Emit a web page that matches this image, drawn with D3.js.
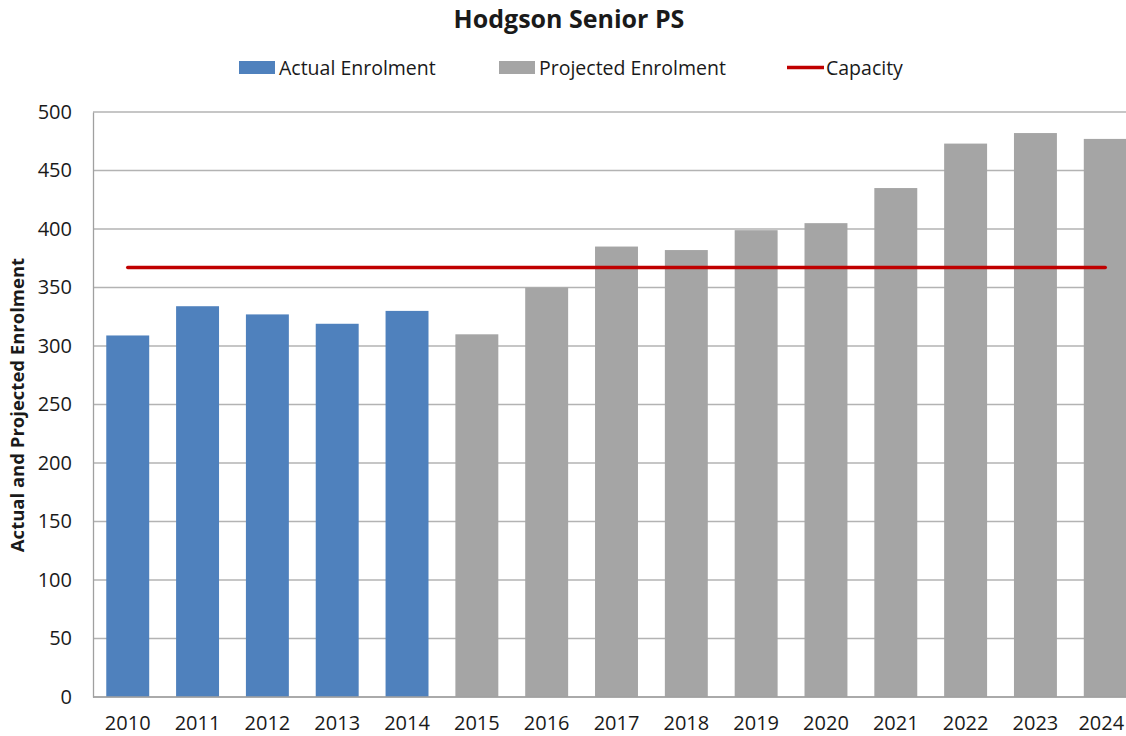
<!DOCTYPE html>
<html>
<head>
<meta charset="utf-8">
<script src="https://cdn.jsdelivr.net/npm/d3@7"></script>
<style>
  body { margin: 0; background: #fff; }
  text { font-family: "Open Sans", sans-serif; fill: #1a1a1a; }
</style>
</head>
<body>
<div id="chart"></div>
<script>
var w = 1126;
var h = 736;

// data
var years = ["2010", "2011", "2012", "2013", "2014", "2015", "2016", "2017",
  "2018", "2019", "2020", "2021", "2022", "2023", "2024"];
var actual = [309, 334, 327, 319, 330, null, null, null, null, null, null, null, null, null, null];
var projected = [null, null, null, null, null, 310, 350, 385, 382, 399, 405, 435, 473, 482, 477];
var capacity = [367, 367, 367, 367, 367, 367, 367, 367, 367, 367, 367, 367, 367, 367, 367];
var yTicks = [0, 50, 100, 150, 200, 250, 300, 350, 400, 450, 500];

var plotLeft = 93;
var plotTop = 112;
var plotBottom = 697;

var xScale = d3.scaleBand()
  .domain(years)
  .range([plotLeft, plotLeft + 15 * 69.8])
  .paddingInner(0.385)
  .paddingOuter(0.19);

var yScale = d3.scaleLinear()
  .domain([0, 500])
  .range([plotBottom, plotTop]);

var svg = d3.select("#chart").append("svg").attr("width", w).attr("height", h);

// grid
svg.append("g")
  .selectAll("line")
  .data(yTicks)
  .enter()
  .append("line")
  .attr("x1", plotLeft)
  .attr("x2", w)
  .attr("y1", (d) => yScale(d))
  .attr("y2", (d) => yScale(d))
  .attr("stroke", "#b3b3b3")
  .attr("stroke-width", 1.3);

// bars
function drawBars(values, color) {
  svg.append("g")
    .selectAll("rect")
    .data(years.map((y, i) => ({ year: y, v: values[i] })).filter((d) => d.v != null))
    .enter()
    .append("rect")
    .attr("x", (d) => xScale(d.year))
    .attr("width", xScale.bandwidth())
    .attr("y", (d) => yScale(d.v))
    .attr("height", (d) => yScale(0) - yScale(d.v))
    .attr("fill", color);
}
drawBars(actual, "#4f81bd");
drawBars(projected, "#a5a5a5");

// capacity line
var line = d3.line()
  .x((d, i) => xScale(years[i]) + xScale.bandwidth() / 2)
  .y((d) => yScale(d));

svg.append("path")
  .datum(capacity)
  .attr("d", line)
  .attr("fill", "none")
  .attr("stroke", "#c00000")
  .attr("stroke-width", 3.5)
  .attr("stroke-linecap", "round");

// axes
var yAxis = d3.axisLeft(yScale).tickValues(yTicks).tickSize(0).tickPadding(21);
var gy = svg.append("g").attr("transform", "translate(" + plotLeft + ",0)").call(yAxis);
gy.select(".domain").attr("stroke", "#a0a0a0").attr("stroke-width", 1.3);
gy.selectAll("text").attr("font-size", "20px").attr("font-family", "Open Sans").attr("fill", "#1a1a1a");

var xAxis = d3.axisBottom(xScale).tickSize(0).tickPadding(19);
var gx = svg.append("g").attr("transform", "translate(0," + plotBottom + ")").call(xAxis);
gx.select(".domain").attr("d", "M" + plotLeft + ",0H" + w).attr("stroke", "#a0a0a0").attr("stroke-width", 1.3);
gx.selectAll("text").attr("font-size", "20px").attr("font-family", "Open Sans").attr("fill", "#1a1a1a");
// the last label sits against the right edge, as in the original
gx.selectAll("text").filter((d) => d === "2024").attr("dx", "-4");

// title
svg.append("text")
  .attr("x", 569)
  .attr("y", 28)
  .attr("text-anchor", "middle")
  .attr("font-size", "25px")
  .attr("font-weight", "bold")
  .text("Hodgson Senior PS");

// y axis title
svg.append("text")
  .attr("transform", "translate(24,405) rotate(-90)")
  .attr("text-anchor", "middle")
  .attr("font-size", "18.5px")
  .attr("font-weight", "bold")
  .text("Actual and Projected Enrolment");

// legend
var legend = svg.append("g");
legend.append("rect").attr("x", 239).attr("y", 61).attr("width", 36).attr("height", 13).attr("fill", "#4f81bd");
legend.append("text").attr("x", 279).attr("y", 75).attr("font-size", "19.5px").text("Actual Enrolment");
legend.append("rect").attr("x", 499).attr("y", 61).attr("width", 36).attr("height", 13).attr("fill", "#a5a5a5");
legend.append("text").attr("x", 539).attr("y", 75).attr("font-size", "19.5px").text("Projected Enrolment");
legend.append("line").attr("x1", 787).attr("x2", 824).attr("y1", 67.5).attr("y2", 67.5)
  .attr("stroke", "#c00000").attr("stroke-width", 3.5);
legend.append("text").attr("x", 826).attr("y", 75).attr("font-size", "19.5px").text("Capacity");
</script>
</body>
</html>
